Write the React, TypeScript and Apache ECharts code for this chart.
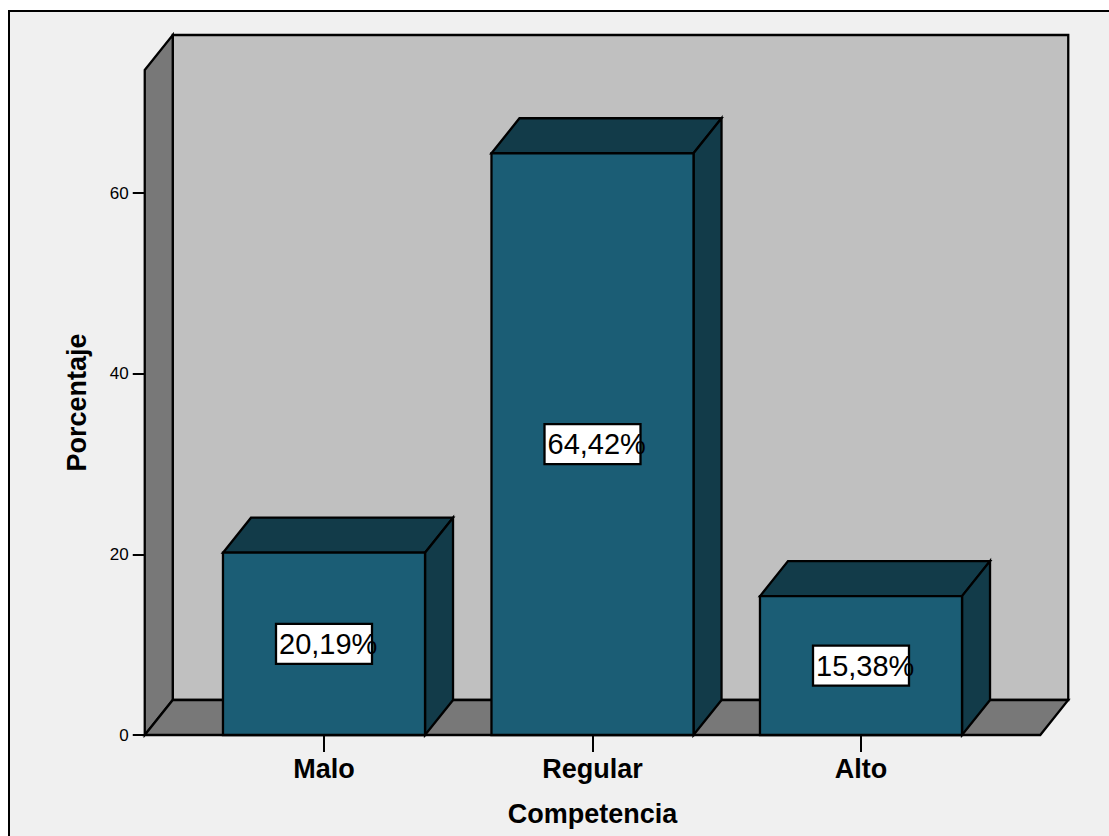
import React, { useEffect, useRef } from "react";
import * as echarts from "echarts";

const categories = ["Malo", "Regular", "Alto"];
const percentages = [20.19, 64.42, 15.38];
const yTicks = [0, 20, 40, 60];
const yMax = 73.64;

const FONT = "'Liberation Sans', Arial, sans-serif";
const PANEL = "#f0f0f0";
const BACK_WALL = "#c0c0c0";
const SIDE_WALL = "#787878";
const BAR_FRONT = "#1b5d75";
const BAR_SHADE = "#123b49";
const STROKE = "#000000";
const STROKE_WIDTH = 2.3;

// Oblique offset of the back plane relative to the front plane, in pixels.
const DEPTH_X = 28;
const DEPTH_Y = 35;
const WALL_OVERHANG = 45;
const BAR_RATIO = 0.7525;

const lineStyle = (fill: string) => ({ fill, stroke: STROKE, lineWidth: STROKE_WIDTH, lineJoin: "miter" });

function renderRoom(params: any) {
  const cs = params.coordSys;
  const left = cs.x - WALL_OVERHANG;
  const right = cs.x + cs.width + WALL_OVERHANG;
  const top = cs.y;
  const bottom = cs.y + cs.height;
  const poly = (points: number[][], fill: string) => ({
    type: "polygon",
    shape: { points },
    style: lineStyle(fill),
  });
  return {
    type: "group",
    children: [
      poly(
        [
          [left + DEPTH_X, top - DEPTH_Y],
          [right + DEPTH_X, top - DEPTH_Y],
          [right + DEPTH_X, bottom - DEPTH_Y],
          [left + DEPTH_X, bottom - DEPTH_Y],
        ],
        BACK_WALL,
      ),
      poly(
        [
          [left, top],
          [left + DEPTH_X, top - DEPTH_Y],
          [left + DEPTH_X, bottom - DEPTH_Y],
          [left, bottom],
        ],
        SIDE_WALL,
      ),
      poly(
        [
          [left, bottom],
          [left + DEPTH_X, bottom - DEPTH_Y],
          [right + DEPTH_X, bottom - DEPTH_Y],
          [right, bottom],
        ],
        SIDE_WALL,
      ),
    ],
  };
}

function renderBar(_params: any, api: any) {
  const index = api.value(0);
  const value = api.value(1);
  const base = api.coord([index, 0]);
  const head = api.coord([index, value]);
  const middle = api.coord([index, value / 2]);
  const width = api.size([1, 0])[0] * BAR_RATIO;
  const x0 = base[0] - width / 2;
  const x1 = base[0] + width / 2;
  const poly = (points: number[][], fill: string) => ({
    type: "polygon",
    shape: { points },
    style: lineStyle(fill),
  });
  const text = value.toFixed(2).replace(".", ",") + "%";
  return {
    type: "group",
    children: [
      poly(
        [
          [x0, head[1]],
          [x0 + DEPTH_X, head[1] - DEPTH_Y],
          [x1 + DEPTH_X, head[1] - DEPTH_Y],
          [x1, head[1]],
        ],
        BAR_SHADE,
      ),
      poly(
        [
          [x1, head[1]],
          [x1 + DEPTH_X, head[1] - DEPTH_Y],
          [x1 + DEPTH_X, base[1] - DEPTH_Y],
          [x1, base[1]],
        ],
        BAR_SHADE,
      ),
      poly(
        [
          [x0, head[1]],
          [x1, head[1]],
          [x1, base[1]],
          [x0, base[1]],
        ],
        BAR_FRONT,
      ),
      {
        type: "rect",
        shape: { x: middle[0] - 48, y: middle[1] - 20, width: 96, height: 40 },
        style: lineStyle("#ffffff"),
      },
      {
        type: "text",
        style: {
          text,
          x: middle[0] - 45,
          y: middle[1],
          fill: "#000000",
          font: `29px ${FONT}`,
          textAlign: "left",
          textVerticalAlign: "middle",
        },
      },
    ],
  };
}

export default function App() {
  const ref = useRef<HTMLDivElement>(null);

  useEffect(() => {
    const chart = echarts.init(ref.current!, undefined, { renderer: "svg" });
    chart.setOption({
      animation: false,
      backgroundColor: "#ffffff",
      grid: { left: 189.75, top: 70, width: 805.5, height: 665, outerBoundsMode: "none" },
      graphic: [
        {
          type: "rect",
          z: -10,
          shape: { x: 9, y: 11, width: 1300, height: 1000 },
          style: { fill: PANEL, stroke: STROKE, lineWidth: 2 },
        },
      ],
      xAxis: {
        type: "category",
        data: categories,
        axisLine: { show: false },
        axisTick: { show: true, alignWithLabel: true, length: 17, lineStyle: { color: STROKE, width: 2 } },
        axisLabel: { color: "#000000", fontFamily: FONT, fontSize: 27, fontWeight: "bold", margin: 20 },
        name: "Competencia",
        nameLocation: "middle",
        nameGap: 65,
        nameTextStyle: { color: "#000000", fontFamily: FONT, fontSize: 27, fontWeight: "bold" },
      },
      yAxis: {
        type: "value",
        min: 0,
        max: yMax,
        offset: WALL_OVERHANG,
        splitLine: { show: false },
        axisLine: { show: false },
        axisTick: { show: true, customValues: yTicks, length: 12, lineStyle: { color: STROKE, width: 2 } },
        axisLabel: {
          customValues: yTicks,
          color: "#000000",
          fontFamily: FONT,
          fontSize: 17,
          margin: 16,
        },
        name: "Porcentaje",
        nameLocation: "middle",
        nameGap: 54,
        nameTextStyle: { color: "#000000", fontFamily: FONT, fontSize: 27, fontWeight: "bold" },
      },
      series: [
        {
          type: "custom",
          coordinateSystem: "cartesian2d",
          silent: true,
          z: 1,
          renderItem: renderRoom,
          data: [[0, 0]],
        },
        {
          type: "custom",
          coordinateSystem: "cartesian2d",
          silent: true,
          z: 2,
          renderItem: renderBar,
          encode: { x: 0, y: 1 },
          data: percentages.map((v, i) => [i, v]),
        },
      ],
    });
    return () => chart.dispose();
  }, []);

  return (
    <div
      ref={ref}
      style={{ position: "fixed", left: 0, top: 0, width: 1109, height: 836, overflow: "hidden" }}
    />
  );
}
